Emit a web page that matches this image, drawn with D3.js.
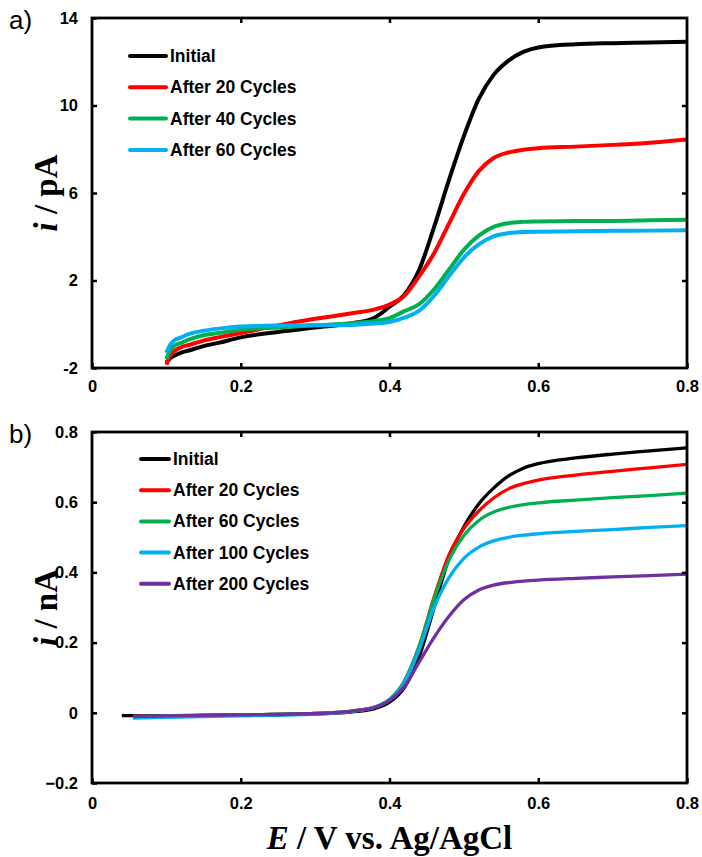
<!DOCTYPE html>
<html>
<head>
<meta charset="utf-8">
<script src="https://cdn.jsdelivr.net/npm/d3@7"></script>
<style>
  html, body { margin: 0; padding: 0; background: #fff; }
  svg { display: block; }
</style>
</head>
<body>
<svg id="chart" width="702" height="857"></svg>
<script>
// ---------- DATA ----------
// Panel a) (pA)
const topE = [0.1, 0.105, 0.11, 0.12, 0.13, 0.15, 0.17, 0.2, 0.25, 0.3, 0.35, 0.38, 0.4, 0.42, 0.44, 0.46, 0.48, 0.5, 0.52, 0.54, 0.56, 0.58, 0.6, 0.65, 0.7, 0.75, 0.8];
const topInitial = [-1.75, -1.55, -1.45, -1.3, -1.2, -1.0, -0.85, -0.6, -0.35, -0.15, 0.05, 0.3, 0.8, 1.35, 2.5, 4.45, 6.6, 8.6, 10.3, 11.4, 12.05, 12.45, 12.65, 12.8, 12.85, 12.88, 12.92];
const top20 = [-1.85, -1.45, -1.25, -1.05, -0.95, -0.75, -0.6, -0.4, -0.05, 0.25, 0.5, 0.68, 0.9, 1.3, 2.2, 3.25, 4.6, 5.95, 7.0, 7.6, 7.85, 7.98, 8.05, 8.12, 8.2, 8.3, 8.45];
const top40 = [-1.6, -1.2, -1.0, -0.85, -0.7, -0.5, -0.4, -0.25, -0.15, -0.05, 0.05, 0.15, 0.28, 0.6, 0.92, 1.6, 2.5, 3.4, 4.05, 4.45, 4.62, 4.68, 4.7, 4.72, 4.72, 4.75, 4.78];
const top60 = [-1.3, -0.95, -0.75, -0.6, -0.45, -0.3, -0.2, -0.1, -0.06, -0.05, -0.03, 0.03, 0.1, 0.3, 0.62, 1.3, 2.2, 3.05, 3.65, 4.02, 4.17, 4.22, 4.23, 4.25, 4.27, 4.28, 4.3];
const topNames = ["Initial", "After 20 Cycles", "After 40 Cycles", "After 60 Cycles"];
const topColors = ["#000000", "#ff0000", "#00b050", "#00b0f0"];
const topYTicks = [-2, 2, 6, 10, 14];

// Panel b) (nA)
const botE = [0.1, 0.2, 0.3, 0.35, 0.38, 0.4, 0.42, 0.44, 0.46, 0.48, 0.5, 0.52, 0.54, 0.56, 0.58, 0.6, 0.65, 0.7, 0.75, 0.8];
const botStartE = [0.04, 0.055, 0.055, 0.055, 0.055];
const botStartI = [-0.008, -0.01, -0.01, -0.015, -0.01];
const botInitial = [-0.008, -0.006, -0.003, 0.003, 0.012, 0.03, 0.072, 0.16, 0.3, 0.44, 0.53, 0.595, 0.64, 0.675, 0.697, 0.71, 0.726, 0.737, 0.746, 0.755];
const bot20 = [-0.009, -0.006, -0.002, 0.005, 0.016, 0.038, 0.09, 0.19, 0.33, 0.45, 0.525, 0.575, 0.612, 0.638, 0.653, 0.663, 0.677, 0.688, 0.698, 0.708];
const bot60 = [-0.009, -0.006, -0.002, 0.005, 0.016, 0.038, 0.09, 0.19, 0.325, 0.435, 0.505, 0.548, 0.572, 0.585, 0.593, 0.598, 0.606, 0.613, 0.619, 0.626];
const bot100 = [-0.013, -0.009, -0.004, 0.004, 0.016, 0.037, 0.085, 0.18, 0.3, 0.385, 0.44, 0.472, 0.49, 0.5, 0.506, 0.51, 0.517, 0.522, 0.528, 0.533];
const bot200 = [-0.009, -0.006, -0.002, 0.005, 0.015, 0.035, 0.075, 0.145, 0.215, 0.275, 0.322, 0.35, 0.364, 0.371, 0.375, 0.378, 0.383, 0.387, 0.391, 0.395];
const botNames = ["Initial", "After 20 Cycles", "After 60 Cycles", "After 100 Cycles", "After 200 Cycles"];
const botColors = ["#000000", "#ff0000", "#00b050", "#00b0f0", "#7030a0"];
const botYTicks = [-0.2, 0, 0.2, 0.4, 0.6, 0.8];

const xTicks = [0, 0.2, 0.4, 0.6, 0.8];

// ---------- DRAW ----------
const svg = d3.select("#chart");
const L = 92, R = 687;
const sansBold = "'Liberation Sans', Arial, sans-serif";
const serif = "'Liberation Serif', 'Times New Roman', serif";
const tickFont = 16.5;

function panel(cfg) {
  const x = d3.scaleLinear().domain([0, 0.8]).range([L, R]);
  const y = d3.scaleLinear().domain(cfg.yDomain).range([cfg.bottom, cfg.top]);
  const g = svg.append("g");

  const clipId = "clip" + cfg.id;
  svg.append("clipPath").attr("id", clipId).append("rect")
    .attr("x", L).attr("y", cfg.top).attr("width", R - L).attr("height", cfg.bottom - cfg.top);

  // lines
  const line = d3.line().x(d => x(d[0])).y(d => y(d[1])).curve(d3.curveMonotoneX);
  const lg = g.append("g").attr("clip-path", `url(#${clipId})`);
  cfg.series.forEach((s, k) => {
    lg.append("path").datum(s.pts)
      .attr("d", line).attr("fill", "none")
      .attr("stroke", cfg.colors[k]).attr("stroke-width", cfg.lw)
      .attr("stroke-linejoin", "round").attr("stroke-linecap", "butt");
  });

  // axes (ticks inward)
  const ax = g.append("g");
  const tickLen = 5;
  const bottomAx = d3.axisBottom(x).tickValues(xTicks).tickSize(-tickLen).tickPadding(cfg.xPad)
    .tickFormat(d => d === 0 ? "0" : d3.format(".1f")(d));
  const topAx = d3.axisTop(x).tickValues(xTicks.slice(1, -1)).tickSize(-tickLen).tickFormat("");
  const leftAx = d3.axisLeft(y).tickValues(cfg.yTicks).tickSize(-tickLen).tickPadding(14)
    .tickFormat(cfg.fmt);
  const rightAx = d3.axisRight(y).tickValues(cfg.yTicks.slice(1, -1)).tickSize(-tickLen).tickFormat("");

  [[bottomAx, `translate(0,${cfg.bottom})`], [topAx, `translate(0,${cfg.top})`],
   [leftAx, `translate(${L},0)`], [rightAx, `translate(${R},0)`]].forEach(([a, t]) => {
    const gg = ax.append("g").attr("transform", t).call(a);
    gg.select(".domain").remove();
    gg.selectAll("line").attr("stroke", "#000").attr("stroke-width", 2.5);
    gg.selectAll("text").attr("fill", "#000").attr("font-family", sansBold)
      .attr("font-weight", "bold").attr("font-size", tickFont);
  });

  // frame
  g.append("rect").attr("x", L).attr("y", cfg.top).attr("width", R - L).attr("height", cfg.bottom - cfg.top)
    .attr("fill", "none").attr("stroke", "#000").attr("stroke-width", 2.8);

  // y title
  const yt = g.append("text")
    .attr("transform", `translate(${cfg.yTitleX},${(cfg.top + cfg.bottom) / 2}) rotate(-90)`)
    .attr("text-anchor", "middle").attr("font-family", serif).attr("font-weight", "bold")
    .attr("font-size", 33).attr("fill", "#000");
  yt.append("tspan").attr("font-style", "italic").text("i");
  yt.append("tspan").text(" / " + cfg.unit);

  // panel label
  g.append("text").attr("x", 9).attr("y", cfg.top + 11).attr("font-family", sansBold)
    .attr("font-size", 26).attr("fill", "#000").text(cfg.label);

  // legend
  const leg = g.append("g");
  cfg.names.forEach((n, k) => {
    const yy = cfg.legY + k * cfg.legDy;
    leg.append("line").attr("x1", cfg.legX1).attr("x2", cfg.legX2).attr("y1", yy).attr("y2", yy)
      .attr("stroke", cfg.colors[k]).attr("stroke-width", 4).attr("stroke-linecap", "round");
    leg.append("text").attr("x", cfg.legX2 + 4).attr("y", yy + 6)
      .attr("font-family", sansBold).attr("font-weight", "bold").attr("font-size", 17.5)
      .attr("fill", "#000").text(n);
  });
}

panel({
  id: "a", top: 18, bottom: 368, yDomain: [-2, 14], yTicks: topYTicks, xPad: 12,
  fmt: d => String(d), unit: "pA", label: "a)", yTitleX: 57, lw: 4,
  colors: topColors, names: topNames,
  series: [topInitial, top20, top40, top60].map(v => ({ pts: topE.map((e, i) => [e, v[i]]) })),
  legX1: 130, legX2: 166, legY: 56, legDy: 31.3
});

panel({
  id: "b", top: 432, bottom: 783, yDomain: [-0.2, 0.8], yTicks: botYTicks, xPad: 14,
  fmt: d => d === 0 ? "0" : d3.format(".1f")(d), unit: "nA", label: "b)", yTitleX: 57, lw: 3.3,
  colors: botColors, names: botNames,
  series: [botInitial, bot20, bot60, bot100, bot200].map((v, k) => ({
    pts: [[botStartE[k], botStartI[k]]].concat(botE.map((e, i) => [e, v[i]]))
  })),
  legX1: 141, legX2: 169, legY: 459, legDy: 31.2
});

// x title
const xt = svg.append("text").attr("x", (L + R) / 2).attr("y", 849)
  .attr("text-anchor", "middle").attr("font-family", serif).attr("font-weight", "bold")
  .attr("font-size", 33).attr("fill", "#000");
xt.append("tspan").attr("font-style", "italic").text("E");
xt.append("tspan").text(" / V vs. Ag/AgCl");
</script>
</body>
</html>
